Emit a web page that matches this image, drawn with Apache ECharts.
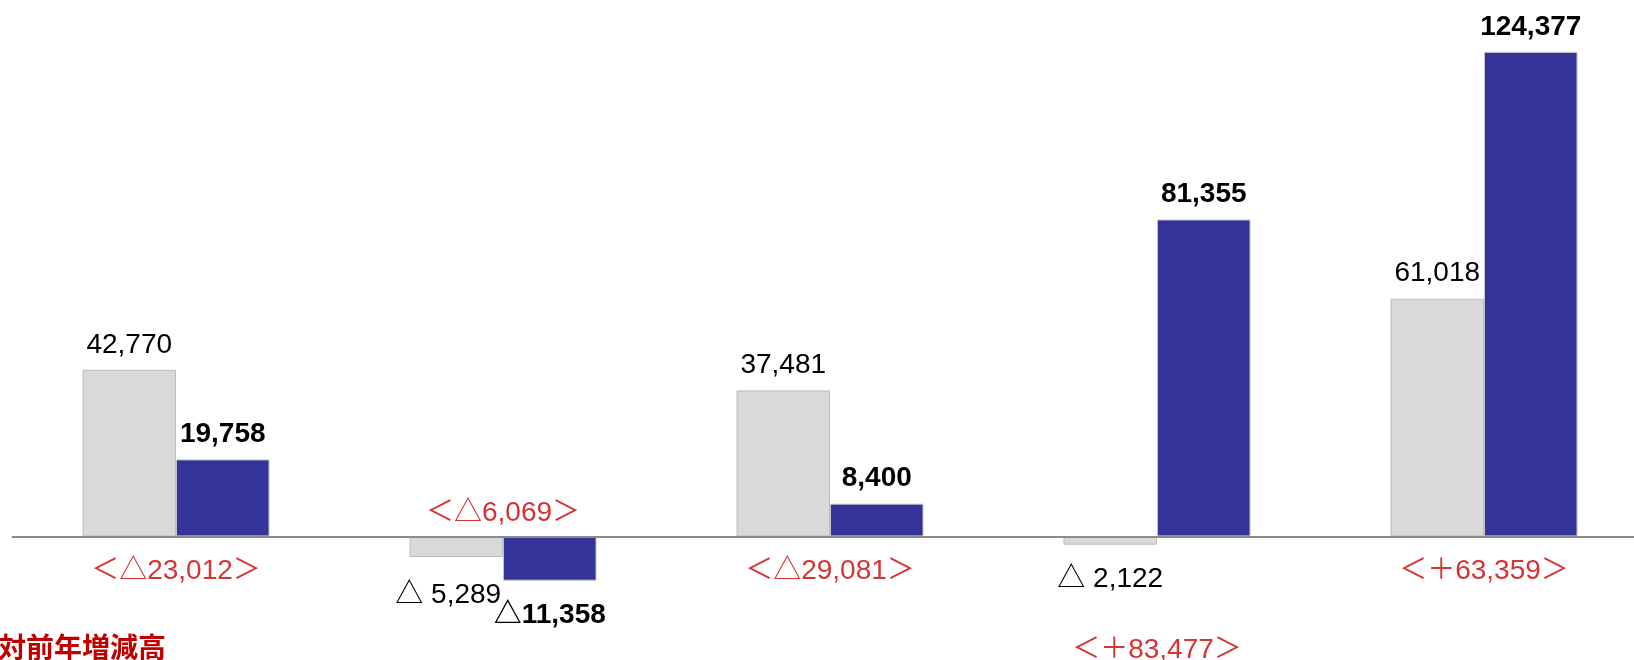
<!DOCTYPE html>
<html>
<head>
<meta charset="utf-8">
<script src="https://cdn.jsdelivr.net/npm/echarts@6/dist/echarts.min.js"></script>
<style>
  html, body { margin: 0; padding: 0; background: #fff; }
  #chart { width: 1634px; height: 660px; }
</style>
</head>
<body>
<div id="chart"></div>
<script>
const categories = ['A', 'B', 'C', 'D', 'E']
const prevYear = [42770, -5289, 37481, -2122, 61018]
const currYear = [19758, -11358, 8400, 81355, 124377]
const diffs = [-23012, -6069, -29081, 83477, 63359]
const footText = '対前年増減高'

const FONT = "'Liberation Sans', Arial, 'Noto Sans CJK JP', sans-serif"
const RED = '#cc0000'

function fmt(v) {
  return Math.abs(v).toLocaleString('en-US')
}

// where the red difference label sits relative to the zero line
const diffOffsets = [35, -23, 35, 114, 35]
// small nudge for one overlapping label
const prevLabelNudge = [null, [-8, 3], null, null, null]

function barItems(values, nudges) {
  return values.map((v, i) => ({
    value: v,
    label: {
      position: v < 0 ? 'bottom' : 'top',
      distance: v < 0 ? 21 : 11,
      offset: nudges && nudges[i] ? nudges[i] : [0, 0]
    }
  }))
}

const chart = echarts.init(document.getElementById('chart'))

chart.setOption({
  animation: false,
  title: {
    text: footText,
    left: -2,
    top: 633,
    padding: 0,
    textStyle: {
      color: '#c00000',
      fontSize: 28,
      fontWeight: 'bold',
      fontFamily: "'Noto Sans CJK JP', sans-serif"
    }
  },
  grid: {
    left: 12.5,
    width: 1635,
    top: 30,
    height: 584.3,
    outerBoundsMode: 'none',
    containLabel: false
  },
  xAxis: {
    type: 'category',
    data: categories,
    axisTick: { show: false },
    axisLabel: { show: false },
    axisLine: {
      onZero: true,
      lineStyle: { color: '#8c8c8c', width: 2 }
    },
    z: 5
  },
  yAxis: {
    type: 'value',
    min: -20000,
    max: 130000,
    show: false,
    splitLine: { show: false }
  },
  series: [
    {
      name: 'prev',
      type: 'bar',
      barWidth: 93.5,
      barGap: '0%',
      data: barItems(prevYear, prevLabelNudge),
      itemStyle: {
        color: '#d9d9d9',
        borderColor: '#bdbdbd',
        borderWidth: 1
      },
      label: {
        show: true,
        color: '#000',
        fontSize: 28,
        fontFamily: FONT,
        formatter: p => (p.value < 0 ? '△ ' : '') + fmt(p.value)
      }
    },
    {
      name: 'curr',
      type: 'bar',
      barWidth: 93.5,
      barGap: '0%',
      data: barItems(currYear),
      itemStyle: {
        color: '#333399',
        borderColor: '#c4c4c4',
        borderWidth: 1
      },
      label: {
        show: true,
        color: '#000',
        fontSize: 28,
        fontWeight: 'bold',
        fontFamily: FONT,
        formatter: p => (p.value < 0 ? '△' : '') + fmt(p.value)
      }
    },
    {
      name: 'diff',
      type: 'scatter',
      symbolSize: 0,
      silent: true,
      data: diffs.map((d, i) => ({
        value: [i, 0],
        label: { offset: [0, diffOffsets[i]] }
      })),
      label: {
        show: true,
        position: 'inside',
        color: RED,
        fontSize: 28,
        fontFamily: FONT,
        formatter: p => {
          const d = diffs[p.dataIndex]
          return '＜' + (d < 0 ? '△' : '＋') + fmt(d) + '＞'
        }
      }
    }
  ]
})
</script>
</body>
</html>
